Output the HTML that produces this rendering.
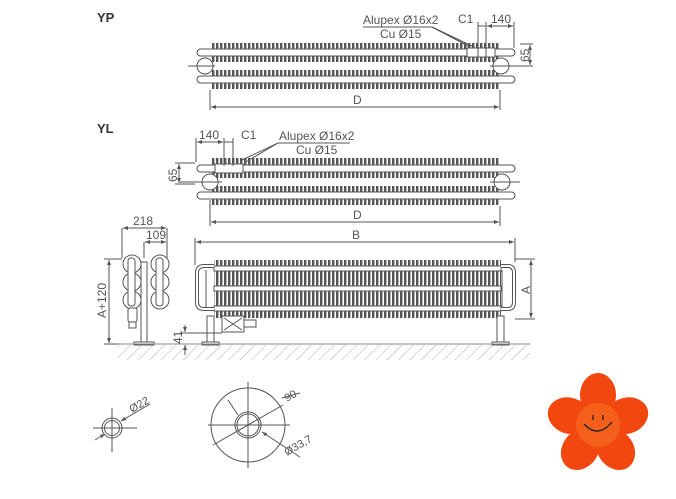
<!DOCTYPE html>
<html><head><meta charset="utf-8"><style>
html,body{margin:0;padding:0;background:#fff;}
svg{display:block;font-family:"Liberation Sans",sans-serif;}
</style></head><body>
<svg width="676" height="499" viewBox="0 0 676 499" xmlns="http://www.w3.org/2000/svg">
<defs>
<pattern id="fin" x="0" y="0" width="4" height="10" patternUnits="userSpaceOnUse">
<rect x="0" y="0" width="2.4" height="10" fill="#555"/>
</pattern>
<pattern id="hatch" width="8" height="8" patternUnits="userSpaceOnUse" patternTransform="rotate(45)">
<line x1="0" y1="0" x2="0" y2="8" stroke="#999" stroke-width="0.8"/>
</pattern>
<marker id="ar" markerWidth="6" markerHeight="6" refX="5" refY="3" orient="auto-start-reverse">
<path d="M0,1 L5,3 L0,5 z" fill="#555"/>
</marker>
</defs>
<g fill="#333" font-size="13" font-weight="bold"><text x="97" y="22">YP</text><text x="97" y="133">YL</text></g>

<!-- YP top view -->
<g stroke="#555" stroke-width="1" fill="none">
<rect x="212" y="43" width="288" height="19" fill="url(#fin)" stroke="none"/>
<rect x="212" y="70" width="288" height="19" fill="url(#fin)" stroke="none"/>
<rect x="197" y="49" width="318" height="7" rx="3.5" fill="#fff"/>
<rect x="197" y="76" width="318" height="7" rx="3.5" fill="#fff"/>
<rect x="212" y="50" width="288" height="5" fill="#fff" stroke="none"/>
<rect x="212" y="77" width="288" height="5" fill="#fff" stroke="none"/>
<circle cx="205" cy="66" r="8" fill="#fff"/><circle cx="501" cy="66" r="8" fill="#fff"/>
<rect x="467" y="48" width="28" height="9" fill="#fff"/>
<line x1="188" y1="66" x2="215" y2="66"/><line x1="490" y1="66" x2="520" y2="66"/>
<line x1="210" y1="90" x2="210" y2="110"/><line x1="500" y1="90" x2="500" y2="110"/>
<line x1="211" y1="107" x2="499" y2="107" marker-start="url(#ar)" marker-end="url(#ar)"/>
<line x1="478" y1="22" x2="478" y2="60"/><line x1="486" y1="22" x2="486" y2="62"/><line x1="514" y1="22" x2="514" y2="48"/>
<line x1="478" y1="26" x2="486" y2="26"/><line x1="487" y1="26" x2="513" y2="26" marker-start="url(#ar)" marker-end="url(#ar)"/>
<line x1="520" y1="44" x2="533" y2="44"/><line x1="520" y1="66" x2="533" y2="66"/>
<line x1="530" y1="45" x2="530" y2="65" marker-start="url(#ar)" marker-end="url(#ar)"/>
<line x1="363" y1="27" x2="432" y2="27"/><line x1="432" y1="27" x2="468" y2="46"/><line x1="432" y1="27" x2="472" y2="46"/>
</g>
<g fill="#555" font-size="12">
<text x="363" y="24">Alupex Ø16x2</text><text x="380" y="38">Cu Ø15</text>
<text x="458" y="23">C1</text><text x="491" y="23">140</text>
<text x="353" y="104">D</text>
<text transform="translate(529,62) rotate(-90)">65</text>
</g>

<!-- YL top view -->
<g stroke="#555" stroke-width="1" fill="none">
<rect x="212" y="158" width="288" height="20" fill="url(#fin)" stroke="none"/>
<rect x="212" y="186" width="288" height="19" fill="url(#fin)" stroke="none"/>
<rect x="197" y="165" width="318" height="7" rx="3.5" fill="#fff"/>
<rect x="197" y="192" width="318" height="7" rx="3.5" fill="#fff"/>
<rect x="212" y="166" width="288" height="5" fill="#fff" stroke="none"/>
<rect x="212" y="193" width="288" height="5" fill="#fff" stroke="none"/>
<circle cx="210" cy="182" r="8" fill="#fff"/><circle cx="502" cy="182" r="8" fill="#fff"/>
<rect x="215" y="164" width="28" height="9" fill="#fff"/>
<line x1="180" y1="182" x2="222" y2="182"/><line x1="490" y1="182" x2="520" y2="182"/>
<line x1="210" y1="200" x2="210" y2="226"/><line x1="500" y1="206" x2="500" y2="226"/>
<line x1="211" y1="222" x2="499" y2="222" marker-start="url(#ar)" marker-end="url(#ar)"/>
<line x1="196" y1="138" x2="196" y2="162"/><line x1="224" y1="138" x2="224" y2="166"/><line x1="233" y1="138" x2="233" y2="166"/>
<line x1="197" y1="142" x2="223" y2="142" marker-start="url(#ar)" marker-end="url(#ar)"/>
<line x1="224" y1="142" x2="233" y2="142"/>
<line x1="175" y1="163" x2="195" y2="163"/><line x1="175" y1="184" x2="195" y2="184"/>
<line x1="179" y1="164" x2="179" y2="183" marker-start="url(#ar)" marker-end="url(#ar)"/>
<line x1="278" y1="143" x2="350" y2="143"/><line x1="278" y1="143" x2="240" y2="161"/><line x1="278" y1="143" x2="244" y2="163"/>
</g>
<g fill="#555" font-size="12">
<text x="199" y="139">140</text><text x="241" y="139">C1</text>
<text x="279" y="140">Alupex Ø16x2</text><text x="296" y="154">Cu Ø15</text>
<text x="353" y="219">D</text>
<text transform="translate(177,182) rotate(-90)">65</text>
</g>

<!-- side end view -->
<g stroke="#555" stroke-width="1" fill="#fff">
<line x1="122" y1="228" x2="122" y2="258"/><line x1="167" y1="228" x2="167" y2="258"/><line x1="144" y1="242" x2="144" y2="258"/>
<line x1="123" y1="228" x2="166" y2="228" marker-start="url(#ar)" marker-end="url(#ar)"/>
<line x1="145" y1="242" x2="166" y2="242" marker-start="url(#ar)" marker-end="url(#ar)"/>
<line x1="104" y1="259" x2="122" y2="259"/><line x1="104" y1="344" x2="122" y2="344"/>
<line x1="109" y1="260" x2="109" y2="343" marker-start="url(#ar)" marker-end="url(#ar)"/>
<circle cx="132" cy="264" r="9"/><circle cx="132" cy="282" r="9"/><circle cx="132" cy="300" r="9"/>
<circle cx="160" cy="264" r="9"/><circle cx="160" cy="282" r="9"/><circle cx="160" cy="300" r="9"/>
<rect x="128" y="258" width="7" height="48" rx="3"/><rect x="156" y="258" width="7" height="48" rx="3"/>
<rect x="141" y="262" width="6" height="82"/>
<rect x="134" y="342" width="20" height="3"/>
<rect x="128" y="308" width="9" height="14" rx="2"/><rect x="129" y="322" width="7" height="6"/>
</g>
<g fill="#555" font-size="12">
<text x="133" y="225">218</text><text x="146" y="239">109</text>
<text transform="translate(106,318) rotate(-90)">A+120</text>
</g>

<!-- front view -->
<g stroke="#555" stroke-width="1" fill="none">
<line x1="195" y1="238" x2="195" y2="265"/><line x1="515" y1="238" x2="515" y2="262"/>
<line x1="196" y1="242" x2="514" y2="242" marker-start="url(#ar)" marker-end="url(#ar)"/>
<rect x="214" y="260" width="287" height="58" fill="url(#fin)" stroke="none"/>
<rect x="214" y="266" width="287" height="5" fill="#fff"/>
<rect x="214" y="286" width="287" height="5" fill="#fff"/>
<rect x="214" y="306" width="287" height="5" fill="#fff"/>
<path d="M214,266 H204 Q197,266 197,273 V302 Q197,309 204,309 H214" stroke-width="4" stroke="#555"/>
<path d="M214,266 H204 Q197,266 197,273 V302 Q197,309 204,309 H214" stroke-width="2" stroke="#fff"/>
<path d="M501,266 H508 Q514,266 514,273 V302 Q514,309 508,309 H501" stroke-width="4" stroke="#555"/>
<path d="M501,266 H508 Q514,266 514,273 V302 Q514,309 508,309 H501" stroke-width="2" stroke="#fff"/>
<line x1="206" y1="270" x2="206" y2="308"/><line x1="502" y1="270" x2="502" y2="308"/>
<rect x="207" y="316" width="7" height="28" fill="#fff"/><rect x="497" y="316" width="7" height="28" fill="#fff"/>
<rect x="202" y="342" width="17" height="3" fill="#fff"/><rect x="492" y="342" width="17" height="3" fill="#fff"/>
<rect x="222" y="316" width="22" height="16" fill="#fff"/>
<path d="M224,318 L242,330 M242,318 L224,330"/>
<rect x="244" y="320" width="12" height="7" fill="#fff"/>
<line x1="515" y1="259" x2="535" y2="259"/><line x1="515" y1="319" x2="535" y2="319"/>
<line x1="531" y1="260" x2="531" y2="318" marker-start="url(#ar)" marker-end="url(#ar)"/>
<line x1="180" y1="333" x2="222" y2="333"/>
<line x1="185" y1="325" x2="185" y2="332" marker-end="url(#ar)"/>
<line x1="185" y1="355" x2="185" y2="345" marker-end="url(#ar)"/>
<line x1="118" y1="344" x2="530" y2="344" stroke="#888"/>
</g>
<rect x="118" y="345" width="412" height="15" fill="url(#hatch)"/>
<g fill="#555" font-size="12">
<text x="352" y="239">B</text>
<text transform="translate(530,294) rotate(-90)">A</text>
<text transform="translate(182,344) rotate(-90)">41</text>
</g>

<!-- circles -->
<g stroke="#555" stroke-width="1" fill="none">
<line x1="93" y1="428" x2="137" y2="428"/><line x1="112" y1="408" x2="112" y2="452"/>
<circle cx="112" cy="428" r="10"/><circle cx="112" cy="428" r="7.5"/>
<line x1="95" y1="440" x2="105" y2="434" marker-end="url(#ar)"/>
<line x1="150" y1="404" x2="121" y2="421" marker-end="url(#ar)"/>
<line x1="208" y1="425" x2="290" y2="425"/><line x1="248" y1="382" x2="248" y2="468"/>
<circle cx="248" cy="425" r="37"/><circle cx="248" cy="425" r="13"/><circle cx="248" cy="425" r="11"/>
<line x1="213" y1="445" x2="283" y2="405"/>
<line x1="282" y1="398" x2="300" y2="393"/>
<line x1="228" y1="400" x2="238" y2="415"/>
<line x1="300" y1="457" x2="262" y2="432" marker-end="url(#ar)"/>
</g>
<g fill="#555" font-size="11">
<text transform="translate(132,413) rotate(-30)">Ø22</text>
<text transform="translate(287,402) rotate(-30)">90</text>
<text transform="translate(287,456) rotate(-30)">Ø33,7</text>
</g>

<!-- flower -->
<g fill="#f2470f">
<g transform="translate(598,425)">
<ellipse cx="0" cy="-30" rx="18" ry="22" transform="rotate(0)"/>
<ellipse cx="0" cy="-30" rx="18" ry="22" transform="rotate(72)"/>
<ellipse cx="0" cy="-30" rx="18" ry="22" transform="rotate(144)"/>
<ellipse cx="0" cy="-30" rx="18" ry="22" transform="rotate(216)"/>
<ellipse cx="0" cy="-30" rx="18" ry="22" transform="rotate(288)"/>
<circle r="22" fill="#f55f1c"/>
<path d="M-14,-1 Q0,14 14,-3" stroke="#222" stroke-width="1.3" fill="none"/>
<line x1="-5" y1="-10" x2="-5" y2="-5" stroke="#222" stroke-width="1.3"/>
<line x1="5" y1="-10" x2="5" y2="-5" stroke="#222" stroke-width="1.3"/>
</g>
</g>
</svg>
</body></html>
